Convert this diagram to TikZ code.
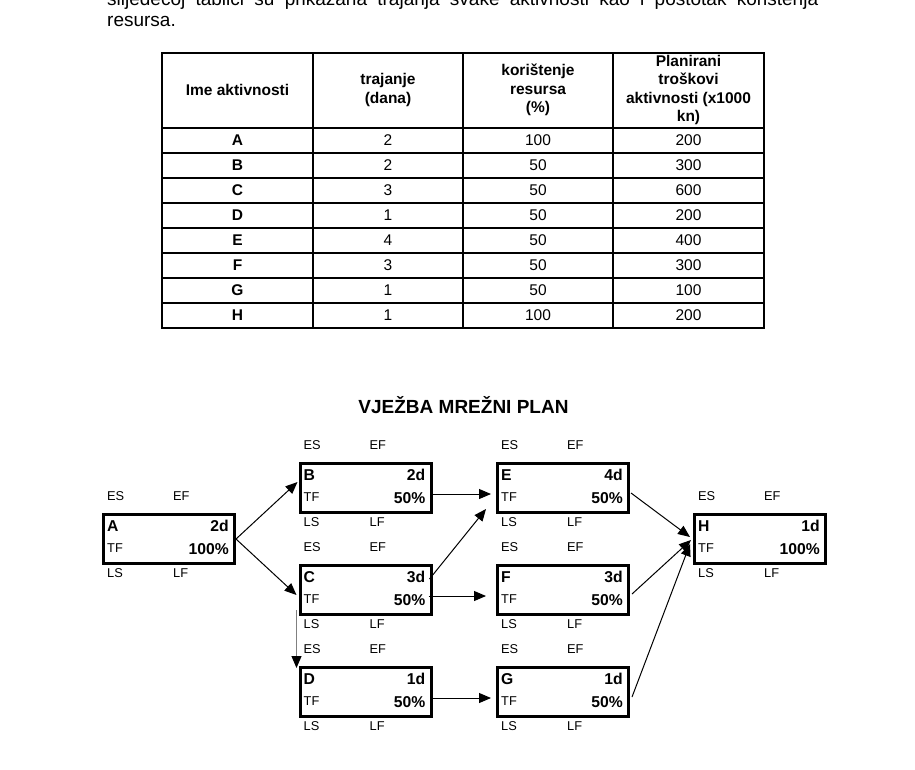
\documentclass[tikz,border=0pt]{standalone}
\usepackage{fontspec}
\setmainfont{Liberation Sans}
\usetikzlibrary{arrows.meta,calc,positioning}

\tikzset{
    akt/.style={draw, line width=3pt, minimum width=131pt, minimum height=49pt, inner sep=0pt},
    malo/.style={font=\fontsize{12.8}{15}\selectfont, inner sep=0pt},
    veliko/.style={font=\bfseries\fontsize{15.7}{18}\selectfont, inner sep=0pt},
    celija/.style={font=\fontsize{15.5}{18}\selectfont, inner sep=0pt},
    glava/.style={font=\bfseries\fontsize{15.5}{18.3}\selectfont, align=center, inner sep=0pt},
    tekst/.style={font=\fontsize{19}{22}\selectfont, inner sep=0pt, anchor=base west},
    strelica/.style={-{Triangle[length=12pt,width=10pt]}, line width=1pt}
}

\begin{document}
\begin{tikzpicture}[x=1pt, y=-1pt]
                        \clip (0,0) rectangle (915,769);
                        % uvodni tekst
                        \node[tekst] (uvod1) at (107,5)
                        {\makebox[711pt][s]{slijedećoj tablici su prikazana trajanja svake aktivnosti kao i postotak korištenja}};
                        \node[tekst] (uvod2) at (107,26) {resursa.};
                        % tablica
                        \draw[line width=1.3pt]
                        (162,53) rectangle (764,328);
                        \foreach \y in {128,153,...,303}
                            \draw[line width=1.3pt] (162,\y) -- (764,\y);
                        \foreach \x in {313,463,613}
                            \draw[line width=1.3pt] (\x,53) -- (\x,328);
                        \node[glava] (h1) at (237.5,90) {Ime aktivnosti};
                        \node[glava] (h2) at (388,90) {trajanje\\(dana)};
                        \node[glava] (h3) at (538,90) {korištenje\\resursa\\(\%)};
                        \node[glava] (h4) at (688.5,90) {Planirani\\troškovi\\aktivnosti (x1000\\kn)};
                        \foreach \ime/\dani/\posto/\trosak [count=\i] in
                        {A/2/100/200, B/2/50/300, C/3/50/600, D/1/50/200,
                         E/4/50/400, F/3/50/300, G/1/50/100, H/1/100/200} {
                            \pgfmathsetmacro\yr{115.5+25*\i}
                            \node[glava] (ime\i) at (237.5,\yr) {\ime};
                            \node[celija] (dani\i) at (388,\yr) {\dani};
                            \node[celija] (posto\i) at (538,\yr) {\posto};
                            \node[celija] (trosak\i) at (688.5,\yr) {\trosak};
                        }
                        % mrezni plan
                        \node[font=\bfseries\fontsize{19}{22}\selectfont, inner sep=0pt, anchor=base]
                        (naslov) at (463.5,413.3) {VJEŽBA MREŽNI PLAN};
                        \foreach \ime/\x/\y/\dani/\posto in
                        {A/169/539/2d/100\%, B/365.5/488/2d/50\%, C/365.5/590/3d/50\%,
                         D/365.5/692/1d/50\%, E/563/488/4d/50\%, F/563/590/3d/50\%,
                         G/563/692/1d/50\%, H/760/539/1d/100\%} {
                            \node[akt] (\ime) at (\x,\y) {};
                            \node[veliko, anchor=base west] (\ime-ime) at ($(\ime.north west)+(5,18)$) {\ime};
                            \node[veliko, anchor=base east] (\ime-dani) at ($(\ime.north east)+(-7,18)$) {\dani};
                            \node[malo, anchor=base west] (\ime-tf) at ($(\ime.north west)+(5,39)$) {TF};
                            \node[veliko, anchor=base east] (\ime-posto) at ($(\ime.north east)+(-7,41)$) {\posto};
                            \node[malo, anchor=base west] (\ime-es) at ($(\ime.north west)+(5,-12.5)$) {ES};
                            \node[malo, anchor=base west] (\ime-ef) at ($(\ime.north west)+(71,-12.5)$) {EF};
                            \node[malo, anchor=base west] (\ime-ls) at ($(\ime.south west)+(5,12)$) {LS};
                            \node[malo, anchor=base west] (\ime-lf) at ($(\ime.south west)+(71,12)$) {LF};
                        }
                        % veze
                        \draw[strelica] (A.east) -- ($(B.west)+(-1,-6)$);
                        \draw[strelica] (A.east) -- ($(C.west)+(-2,5)$);
                        \draw[strelica] ($(B.east)+(0,6)$) -- ($(E.west)+(-5,6)$);
                        \draw[strelica] ($(C.north east)+(-3,15)$) -- ($(E.south west)+(-10,-5)$);
                        \draw[strelica] ($(C.east)+(-4,6)$) -- ($(F.west)+(-10,6)$);
                        \draw[-{Triangle[length=12pt,width=10pt,color=black]}, line width=1pt, gray]
                        ($(C.south west)+(-2,-6)$) -- ($(D.north west)+(-2,2)$);
                        \draw[strelica] ($(D.east)+(0,6)$) -- ($(G.west)+(-5,6)$);
                        \draw[strelica] ($(E.east)+(1,5)$) -- ($(H.west)+(-3,-2)$);
                        \draw[strelica] ($(F.east)+(2,4)$) -- ($(H.west)+(-2,1)$);
                        \draw[strelica] ($(G.east)+(2,5)$) -- ($(H.west)+(-3,5)$);
                    \end{tikzpicture}
\end{document}
